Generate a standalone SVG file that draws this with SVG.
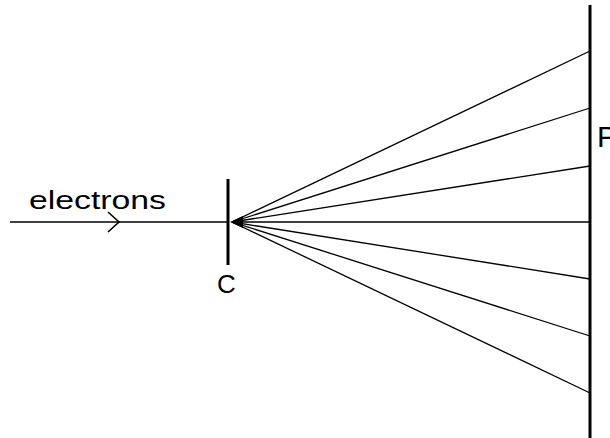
<svg xmlns="http://www.w3.org/2000/svg" width="610" height="438" viewBox="0 0 610 438">
<style>
.t{font-family:"Liberation Sans",Arial,sans-serif;fill:#000}
.ray{stroke:#000;stroke-width:1.3;fill:none}
</style>
<rect width="610" height="438" fill="#fff"/>
<g id="connectors">
<line class="ray" x1="10" y1="222" x2="228" y2="222"/>
<polyline points="108,212 119,222 108,232" fill="none" stroke="#000" stroke-width="1.6"/>
<line class="ray" x1="232" y1="222" x2="590" y2="51"/>
<line class="ray" x1="232" y1="222" x2="590" y2="108"/>
<line class="ray" x1="232" y1="222" x2="590" y2="166"/>
<line class="ray" x1="232" y1="222" x2="590" y2="222"/>
<line class="ray" x1="232" y1="222" x2="590" y2="279"/>
<line class="ray" x1="232" y1="222" x2="590" y2="336"/>
<line class="ray" x1="232" y1="222" x2="590" y2="393"/>
<polygon points="230,222 243,216 243,228" fill="#000"/>
</g>
<g id="foil">
<line x1="228" y1="179" x2="228" y2="265" stroke="#000" stroke-width="3"/>
<text class="t" x="217" y="293" font-size="26">C</text>
</g>
<g id="screen">
<line x1="590" y1="5" x2="590" y2="438" stroke="#000" stroke-width="3"/>
<text class="t" x="597" y="147" font-size="30">P</text>
</g>
<g id="electrons">
<text class="t" x="29" y="209" font-size="25" textLength="137" lengthAdjust="spacingAndGlyphs">electrons</text>
</g>
</svg>
